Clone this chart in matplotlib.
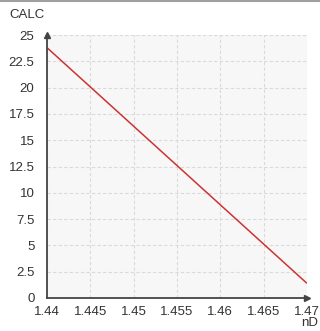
import numpy as np
import matplotlib
matplotlib.use("Agg")
import matplotlib.pyplot as plt

# data
nd = [1.44, 1.47]
calc = [23.8, 1.4]
xticks = [1.44, 1.445, 1.45, 1.455, 1.46, 1.465, 1.47]
xticklabels = ["1.44", "1.445", "1.45", "1.455", "1.46", "1.465", "1.47"]
yticks = [0, 2.5, 5, 7.5, 10, 12.5, 15, 17.5, 20, 22.5, 25]
yticklabels = ["0", "2.5", "5", "7.5", "10", "12.5", "15", "17.5", "20", "22.5", "25"]

plt.rcParams["font.family"] = ["Liberation Sans", "DejaVu Sans"]

fig = plt.figure(figsize=(3.2, 3.31), dpi=100)
ax = fig.add_axes([0.147, 0.0997, 0.812, 0.7943])
ax.set_facecolor("#f7f7f7")

ax.plot(nd, calc, color="#cc3333", lw=1.1, solid_capstyle="butt")

ax.set_xlim(1.44, 1.47)
ax.set_ylim(0, 25)
ax.set_xticks(xticks)
ax.set_xticklabels(xticklabels)
ax.set_yticks(yticks)
ax.set_yticklabels(yticklabels)
ax.tick_params(length=0, labelsize=9.5, colors="#333333")
ax.tick_params(axis="y", pad=9)
ax.tick_params(axis="x", pad=6)
ax.grid(True, color="#dadada", linestyle=(0, (3, 2)), lw=0.8)

for s in ["top", "right"]:
    ax.spines[s].set_visible(False)
for s in ["left", "bottom"]:
    ax.spines[s].set_color("#444444")
    ax.spines[s].set_linewidth(1.3)

# arrow heads on the axes
ax.plot(1, 0, ">", color="#444444", ms=5, transform=ax.transAxes, clip_on=False)
ax.plot(0, 1, "^", color="#444444", ms=5, transform=ax.transAxes, clip_on=False)

fig.text(0.03, 0.955, "CALC", fontsize=9.5, color="#333333", va="center")
fig.text(0.995, 0.005, "nD", fontsize=9.5, color="#333333", ha="right", va="bottom")

# thin grey rule along the top edge
fig.add_artist(plt.Line2D([0, 1], [0.997, 0.997], color="#a0a0a0", lw=1.5))

fig.savefig("out.png", dpi=100)
